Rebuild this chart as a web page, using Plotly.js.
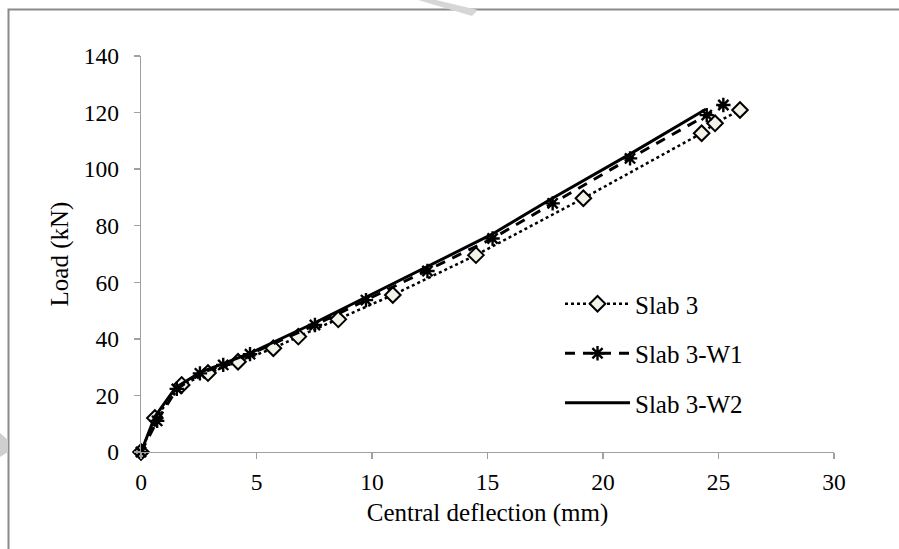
<!DOCTYPE html>
<html>
<head>
<meta charset="utf-8">
<script src="https://cdn.plot.ly/plotly-3.0.1.min.js"></script>
<style>html,body{margin:0;padding:0;background:#fff;}#chart{width:899px;height:549px;}</style>
</head>
<body>
<div id="chart"></div>
<script>
// Slab 3 (diamonds, dotted)
const slab3X = [0, 0.6, 1.76, 2.9, 4.2, 5.73, 6.81, 8.54, 10.9, 14.5, 19.15, 24.27, 24.85, 25.93];
const slab3Y = [0, 12, 23.7, 27.9, 31.9, 36.7, 40.8, 46.9, 55.5, 69.6, 89.7, 112.7, 116.2, 120.9];
// Slab 3-W1 (asterisks, dashed)
const w1X = [0, 0.7, 1.55, 2.55, 3.56, 4.72, 7.53, 9.74, 12.4, 15.22, 17.82, 21.17, 24.49, 25.21];
const w1Y = [0, 11, 22.3, 27.8, 30.8, 34.6, 44.9, 53.7, 64, 75.5, 87.9, 103.8, 119.1, 122.7];
// Slab 3-W2 (solid)
const w2X = [0, 0.6, 1.5, 2.6, 3.6, 4.8, 7.5, 9.7, 12.3, 15.2, 17.7, 21.2, 24.45];
const w2Y = [0, 12.5, 22.8, 28.3, 31.3, 35.2, 45.6, 54.6, 65.2, 77, 89.2, 105.5, 121.2];

const xTicks = [0, 5, 10, 15, 20, 25, 30];
const yTicks = [0, 20, 40, 60, 80, 100, 120, 140];

const FONT = 'Liberation Serif, Times New Roman, serif';

// plot area in pixels (for decorative shapes in paper coords)
const PL = 141, PW = 693, PB = 452, PH = 396;
const px = v => (v - PL) / PW;
const py = v => (PB - v) / PH;
const poly = pts => 'M' + pts.map(p => px(p[0]).toFixed(4) + ',' + py(p[1]).toFixed(4)).join('L') + 'Z';

const traces = [
  {
    x: slab3X, y: slab3Y, name: 'Slab 3', mode: 'lines+markers', legendgroup: 'a',
    line: {color: '#000', width: 2.5, dash: 'dot'},
    marker: {symbol: 'diamond', size: 12, color: '#f4f1e6', line: {color: '#000', width: 2}},
    cliponaxis: false
  },
  {
    x: w1X, y: w1Y, name: 'Slab 3-W1', mode: 'lines+markers', legendgroup: 'b',
    line: {color: '#000', width: 3, dash: '10px,8px'},
    marker: {symbol: 'asterisk-open', size: 12, color: '#000', line: {color: '#000', width: 2.4}},
    cliponaxis: false
  },
  {
    x: w2X, y: w2Y, name: 'Slab 3-W2', mode: 'lines', legendgroup: 'c',
    line: {color: '#000', width: 3},
    cliponaxis: false
  }
];

const axisCommon = {
  showgrid: false, zeroline: false, showline: true, linecolor: '#a0a0a0', linewidth: 1.3,
  ticks: 'outside', ticklen: 6, tickcolor: '#a0a0a0', tickwidth: 1.3,
  tickfont: {family: FONT, size: 23.5, color: '#000'},
  fixedrange: true
};

const layout = {
  width: 899, height: 549,
  margin: {l: 141, r: 65, t: 56, b: 97},
  paper_bgcolor: '#fff', plot_bgcolor: '#fff',
  font: {family: FONT, size: 24, color: '#000'},
  xaxis: Object.assign({}, axisCommon, {
    range: [0, 30], tickvals: xTicks, ticktext: xTicks.map(String),
    ticklabelstandoff: 2,
    title: {text: 'Central deflection (mm)', font: {family: FONT, size: 25, color: '#000'}, standoff: 10}
  }),
  yaxis: Object.assign({}, axisCommon, {
    range: [0, 140], tickvals: yTicks, ticktext: yTicks.map(String),
    ticklabelstandoff: 10,
    title: {text: 'Load (kN)', font: {family: FONT, size: 25, color: '#000'}, standoff: 8}
  }),
  showlegend: true,
  legend: {
    x: px(560), y: py(281), xanchor: 'left', yanchor: 'top',
    font: {family: FONT, size: 25, color: '#000'},
    bgcolor: 'rgba(0,0,0,0)', itemwidth: 65, tracegroupgap: 14, traceorder: 'grouped'
  },
  shapes: [
    {type: 'rect', xref: 'paper', yref: 'paper', x0: px(8.5), x1: px(960), y0: py(600), y1: py(9.5),
     line: {color: '#8a8a8a', width: 2}, fillcolor: 'rgba(0,0,0,0)', layer: 'below'},
    // faint watermark fragments
    {type: 'path', xref: 'paper', yref: 'paper', layer: 'below',
     path: poly([[418, 0], [436, 0], [478, 10], [472, 16]]),
     fillcolor: '#d6d6d6', line: {width: 0}},
    {type: 'path', xref: 'paper', yref: 'paper', layer: 'below',
     path: poly([[0, 433], [8, 440], [8, 452], [0, 457]]),
     fillcolor: '#cfcfcf', line: {width: 0}}
  ]
};

Plotly.newPlot('chart', traces, layout, {staticPlot: true, displayModeBar: false});
</script>
</body>
</html>
